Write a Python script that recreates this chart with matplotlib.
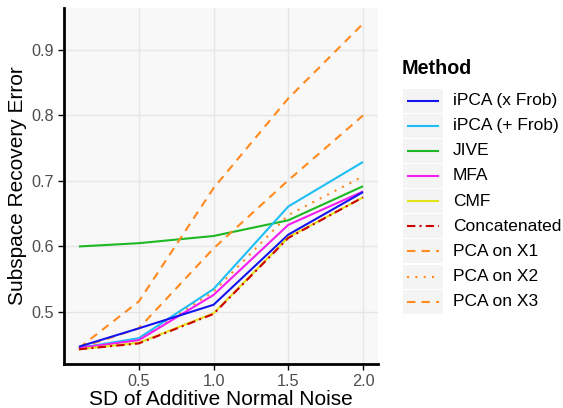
import matplotlib
matplotlib.use("Agg")
import matplotlib.pyplot as plt
from matplotlib.lines import Line2D
from matplotlib.patches import Rectangle

plt.rcParams['font.family'] = ['Liberation Sans', 'DejaVu Sans']

noise_sd = [0.1, 0.5, 1.0, 1.5, 2.0]
methods = ["iPCA (x Frob)", "iPCA (+ Frob)", "JIVE", "MFA", "CMF",
           "Concatenated", "PCA on X1", "PCA on X2", "PCA on X3"]
ipca_x_frob = [0.447, 0.475, 0.511, 0.618, 0.683]
ipca_plus_frob = [0.445, 0.460, 0.535, 0.661, 0.729]
jive = [0.600, 0.605, 0.616, 0.640, 0.692]
mfa = [0.445, 0.457, 0.526, 0.633, 0.684]
cmf = [0.443, 0.453, 0.498, 0.614, 0.675]
concatenated = [0.443, 0.452, 0.497, 0.613, 0.675]
pca_x1 = [0.445, 0.516, 0.689, 0.826, 0.940]
pca_x2 = [0.445, 0.458, 0.531, 0.648, 0.707]
pca_x3 = [0.445, 0.475, 0.597, 0.701, 0.800]
x_ticks = [0.5, 1.0, 1.5, 2.0]
y_ticks = [0.5, 0.6, 0.7, 0.8, 0.9]

series = [ipca_x_frob, ipca_plus_frob, jive, mfa, cmf, concatenated, pca_x1, pca_x2, pca_x3]
colors = ["#1414F0", "#1EBEF5", "#1DB824", "#F51EF0", "#E2E21A", "#CC0000",
          "#FF8A1E", "#FF8A1E", "#FF8A1E"]
dash_styles = ["-", "-", "-", "-", "-", (0, (4, 2, 1, 2)), (0, (4, 3)), (0, (1, 3)), (0, (4, 3))]
lw = 1.5

fig = plt.figure(figsize=(5.63, 4.08), dpi=100)
ax = fig.add_axes([64/563, 44/408, (378-64)/563, (364-8)/408])
ax.set_facecolor("#F8F8F8")

draw_order = [2, 6, 8, 7, 1, 3, 0, 4, 5]
for i in draw_order:
    ax.plot(noise_sd, series[i], color=colors[i], linestyle=dash_styles[i], lw=lw,
            solid_capstyle='butt', dash_capstyle='butt', zorder=3)

ax.set_xlim(0.0, 2.1)
ax.set_ylim(0.4206, 0.964)
ax.set_xticks(x_ticks)
ax.set_xticklabels([f"{v:.1f}" for v in x_ticks])
ax.set_yticks(y_ticks)
ax.set_yticklabels([f"{v:.1f}" for v in y_ticks])
ax.grid(True, color="#E6E6E6", lw=1.0, zorder=0)
ax.set_axisbelow(True)
for s in ["top", "right"]:
    ax.spines[s].set_visible(False)
for s in ["left", "bottom"]:
    ax.spines[s].set_linewidth(2.0)
    ax.spines[s].set_color("black")
ax.tick_params(axis='both', colors="black", labelcolor="#4D4D4D", labelsize=11.7,
               length=4, width=1.0, pad=3)
ax.set_xlabel("SD of Additive Normal Noise", fontsize=15, color="black", labelpad=1)
ax.set_ylabel("Subspace Recovery Error", fontsize=15, color="black", labelpad=3)

# Legend drawn manually
W, H = 563, 408
fig.text(402/W, 1 - 69/H, "Method", fontsize=14.2, fontweight='bold', va='center', ha='left')
y0 = 100.5
for k, name in enumerate(methods):
    yc = y0 + 25.15*k
    fig.patches.append(Rectangle((403/W, 1 - (yc+12)/H), 40/W, 24/H,
                                 transform=fig.transFigure, facecolor="#F4F4F4",
                                 edgecolor="none"))
    fig.lines.append(Line2D([407/W, 439/W], [1 - yc/H, 1 - yc/H], transform=fig.transFigure,
                            color=colors[k], linestyle=dash_styles[k], lw=lw,
                            solid_capstyle='butt', dash_capstyle='butt'))
    fig.text(453/W, 1 - yc/H, name, fontsize=12.5, va='center', ha='left', color="black")

fig.savefig("out.png", dpi=100)
